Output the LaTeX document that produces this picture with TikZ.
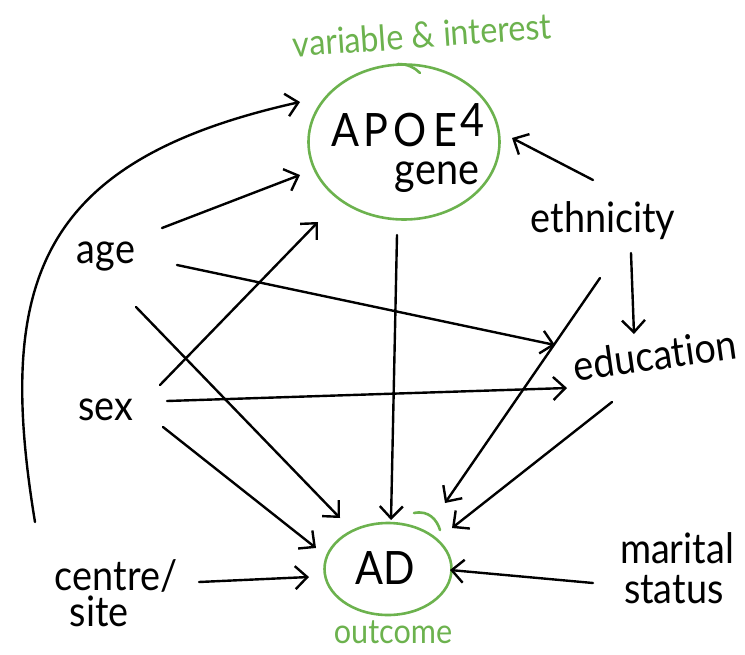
\documentclass[tikz,border=0pt]{standalone}
\usepackage{fontspec}
\setmainfont{Lato}[FakeStretch=0.9,Ligatures=NoCommon]
\usetikzlibrary{arrows.meta,shapes.geometric}
\definecolor{hgreen}{RGB}{108,178,78}
\begin{document}
\begin{tikzpicture}[x=1pt,y=-1pt,
  lbl/.style={inner sep=0pt, font=\fontsize{42}{40}\selectfont},
  glbl/.style={inner sep=0pt, text=hgreen, font=\fontsize{36}{38}\selectfont},
  arr/.style={line width=2.4pt, -{Straight Barb[length=12pt,width=23pt]}, line cap=round, line join=round},
  ring/.style={ellipse, draw=hgreen, line width=2.6pt, inner sep=0pt},
  flourish/.style={draw=hgreen, line width=2.6pt, line cap=round}]
\useasboundingbox (0,0) rectangle (745,654);
% circles
\node[ring, minimum width=191pt, minimum height=155pt] (apoe) at (404,142) {};
\node[ring, minimum width=127pt, minimum height=92pt] (ad) at (388,569) {};
\draw[flourish] ([shift={(-6,-78)}]apoe.center) .. controls +(10,0) and +(-5,-5) .. ([shift={(16,-69)}]apoe.center);
\draw[flourish] ([shift={(26,-56)}]ad.center) .. controls +(15,-3) and +(-3,-10) .. ([shift={(52,-39)}]ad.center);
% texts in circles
\node[lbl, anchor=base, font=\fontsize{46}{46}\selectfont] (apoetxt) at (408,146) {A\hspace{4pt}P\hspace{6pt}O\hspace{6pt}E\hspace{4pt}\raisebox{10pt}{4}};
\node[lbl, anchor=base, font=\fontsize{44}{44}\selectfont] (genetxt) at (437,184) {gene};
\node[lbl, anchor=base, font=\fontsize{46}{46}\selectfont] (adtxt) at (385,584) {AD};
\node[glbl, anchor=base, rotate=4] (interest) at (423,48) {variable \& interest};
\node[glbl, anchor=base, font=\fontsize{34}{36}\selectfont] (outcome) at (393,643) {outcome};
% variables
\node[lbl, anchor=base] (age) at (106,263) {age};
\node[lbl, anchor=base] (sex) at (106,420) {sex};
\node[lbl, anchor=base] (eth) at (603,232) {ethnicity};
\node[lbl, anchor=base, rotate=8] (edu) at (657,370) {education};
\node[lbl, align=left] (centre) at (116,593) {centre/\\[-4pt]\hspace{15pt}site};
\node[lbl, align=left] (marital) at (677,568) {marital\\\hspace{4pt}status};
% connectors
\draw[arr] ([shift={(-81,-71)}]centre.center) .. controls (-5,280) and (40,160) .. ([shift={(-104,-40)}]apoe.center);
\draw[arr] ([shift={(56,-35)}]age.base) -- ([shift={(-104,33)}]apoe.center);
\draw[arr] ([shift={(54,-35)}]sex.base) -- ([shift={(-86,80)}]apoe.center);
\draw[arr] ([shift={(71,2)}]age.base) -- ([shift={(-102,-25)}]edu.base);
\draw[arr] ([shift={(30,44)}]age.base) -- ([shift={(-48,-51)}]ad.center);
\draw[arr] ([shift={(61,-19)}]sex.base) -- ([shift={(-90,18)}]edu.base);
\draw[arr] ([shift={(57,7)}]sex.base) -- ([shift={(-72,-21)}]ad.center);
\draw[arr] ([shift={(-7,93)}]apoe.center) -- ([shift={(3,-49)}]ad.center);
\draw[arr] ([shift={(-10,-52)}]eth.base) -- ([shift={(108,-4)}]apoe.center);
\draw[arr] ([shift={(28,21)}]eth.base) -- ([shift={(-23,-36)}]edu.base);
\draw[arr] ([shift={(-3,46)}]eth.base) -- ([shift={(57,-66)}]ad.center);
\draw[arr] ([shift={(-45,32)}]edu.base) -- ([shift={(64,-41)}]ad.center);
\draw[arr] ([shift={(83,-11)}]centre.center) -- ([shift={(-79,8)}]ad.center);
\draw[arr] ([shift={(-84,15)}]marital.center) -- ([shift={(62,1)}]ad.center);
\end{tikzpicture}
\end{document}
